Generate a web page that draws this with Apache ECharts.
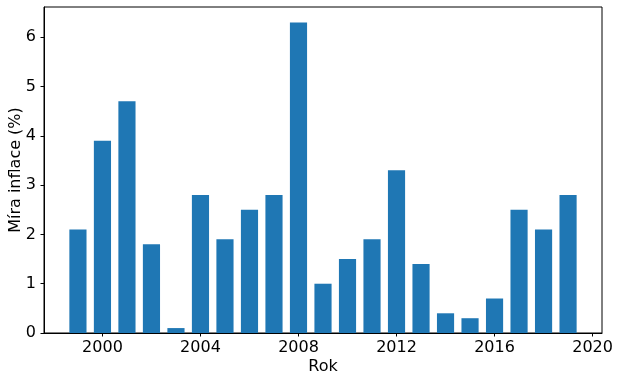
<!DOCTYPE html>
<html>
<head>
<meta charset="utf-8">
<script src="https://cdn.jsdelivr.net/npm/echarts@6/dist/echarts.min.js"></script>
<style>html,body{margin:0;padding:0;background:#fff;}#c{width:620px;height:381px;}</style>
</head>
<body>
<div id="c"></div>
<script>
const years = [1999,2000,2001,2002,2003,2004,2005,2006,2007,2008,2009,2010,2011,2012,2013,2014,2015,2016,2017,2018,2019];
const inflation = [2.1,3.9,4.7,1.8,0.1,2.8,1.9,2.5,2.8,6.3,1.0,1.5,1.9,3.3,1.4,0.4,0.3,0.7,2.5,2.1,2.8];
const xTicks = [2000,2004,2008,2012,2016,2020];
const yTicks = [0,1,2,3,4,5,6];
const barWidth = 0.7;

const font = 'DejaVu Sans';
const fs = 16;
const chart = echarts.init(document.getElementById('c'), null, {renderer: 'canvas'});
const data = years.map((y, i) => [y, inflation[i]]);
const xMin = years[0] - barWidth/2, xMax = years[years.length-1] + barWidth/2;
const xPad = (xMax - xMin) * 0.05;
const yMax = Math.max(...inflation) * 1.05;

chart.setOption({
  animation: false,
  grid: {left: 44, right: 18, top: 7, bottom: 48, show: true, borderColor: '#000', borderWidth: 1,
         containLabel: false, outerBoundsMode: 'none'},
  xAxis: {
    type: 'value', min: xMin - xPad, max: xMax + xPad,
    name: 'Rok', nameLocation: 'middle', nameGap: 26, nameMoveOverlap: false,
    nameTextStyle: {fontFamily: font, fontSize: fs, color: '#000'},
    axisLine: {show: true, lineStyle: {color: '#000'}},
    axisTick: {show: true, length: 3.5, lineStyle: {color: '#000'}, customValues: xTicks},
    axisLabel: {fontFamily: font, fontSize: fs, color: '#000', margin: 7, customValues: xTicks,
                formatter: v => String(v)},
    splitLine: {show: false}
  },
  yAxis: {
    type: 'value', min: 0, max: yMax,
    name: 'Míra inflace (%)', nameLocation: 'middle', nameGap: 20, nameMoveOverlap: false,
    nameTextStyle: {fontFamily: font, fontSize: fs, color: '#000'},
    axisLine: {show: true, lineStyle: {color: '#000'}},
    axisTick: {show: true, length: 3.5, lineStyle: {color: '#000'}, customValues: yTicks},
    axisLabel: {fontFamily: font, fontSize: fs, color: '#000', margin: 8, customValues: yTicks,
                formatter: v => String(v)},
    splitLine: {show: false}
  },
  series: [{
    type: 'custom',
    data: data,
    encode: {x: 0, y: 1},
    renderItem: function (params, api) {
      const x = api.value(0), v = api.value(1);
      const p1 = api.coord([x - barWidth/2, v]);
      const p2 = api.coord([x + barWidth/2, 0]);
      return {
        type: 'rect',
        shape: {x: p1[0], y: p1[1], width: p2[0] - p1[0], height: p2[1] - p1[1]},
        style: {fill: '#1f77b4'}
      };
    }
  }]
});
</script>
</body>
</html>
